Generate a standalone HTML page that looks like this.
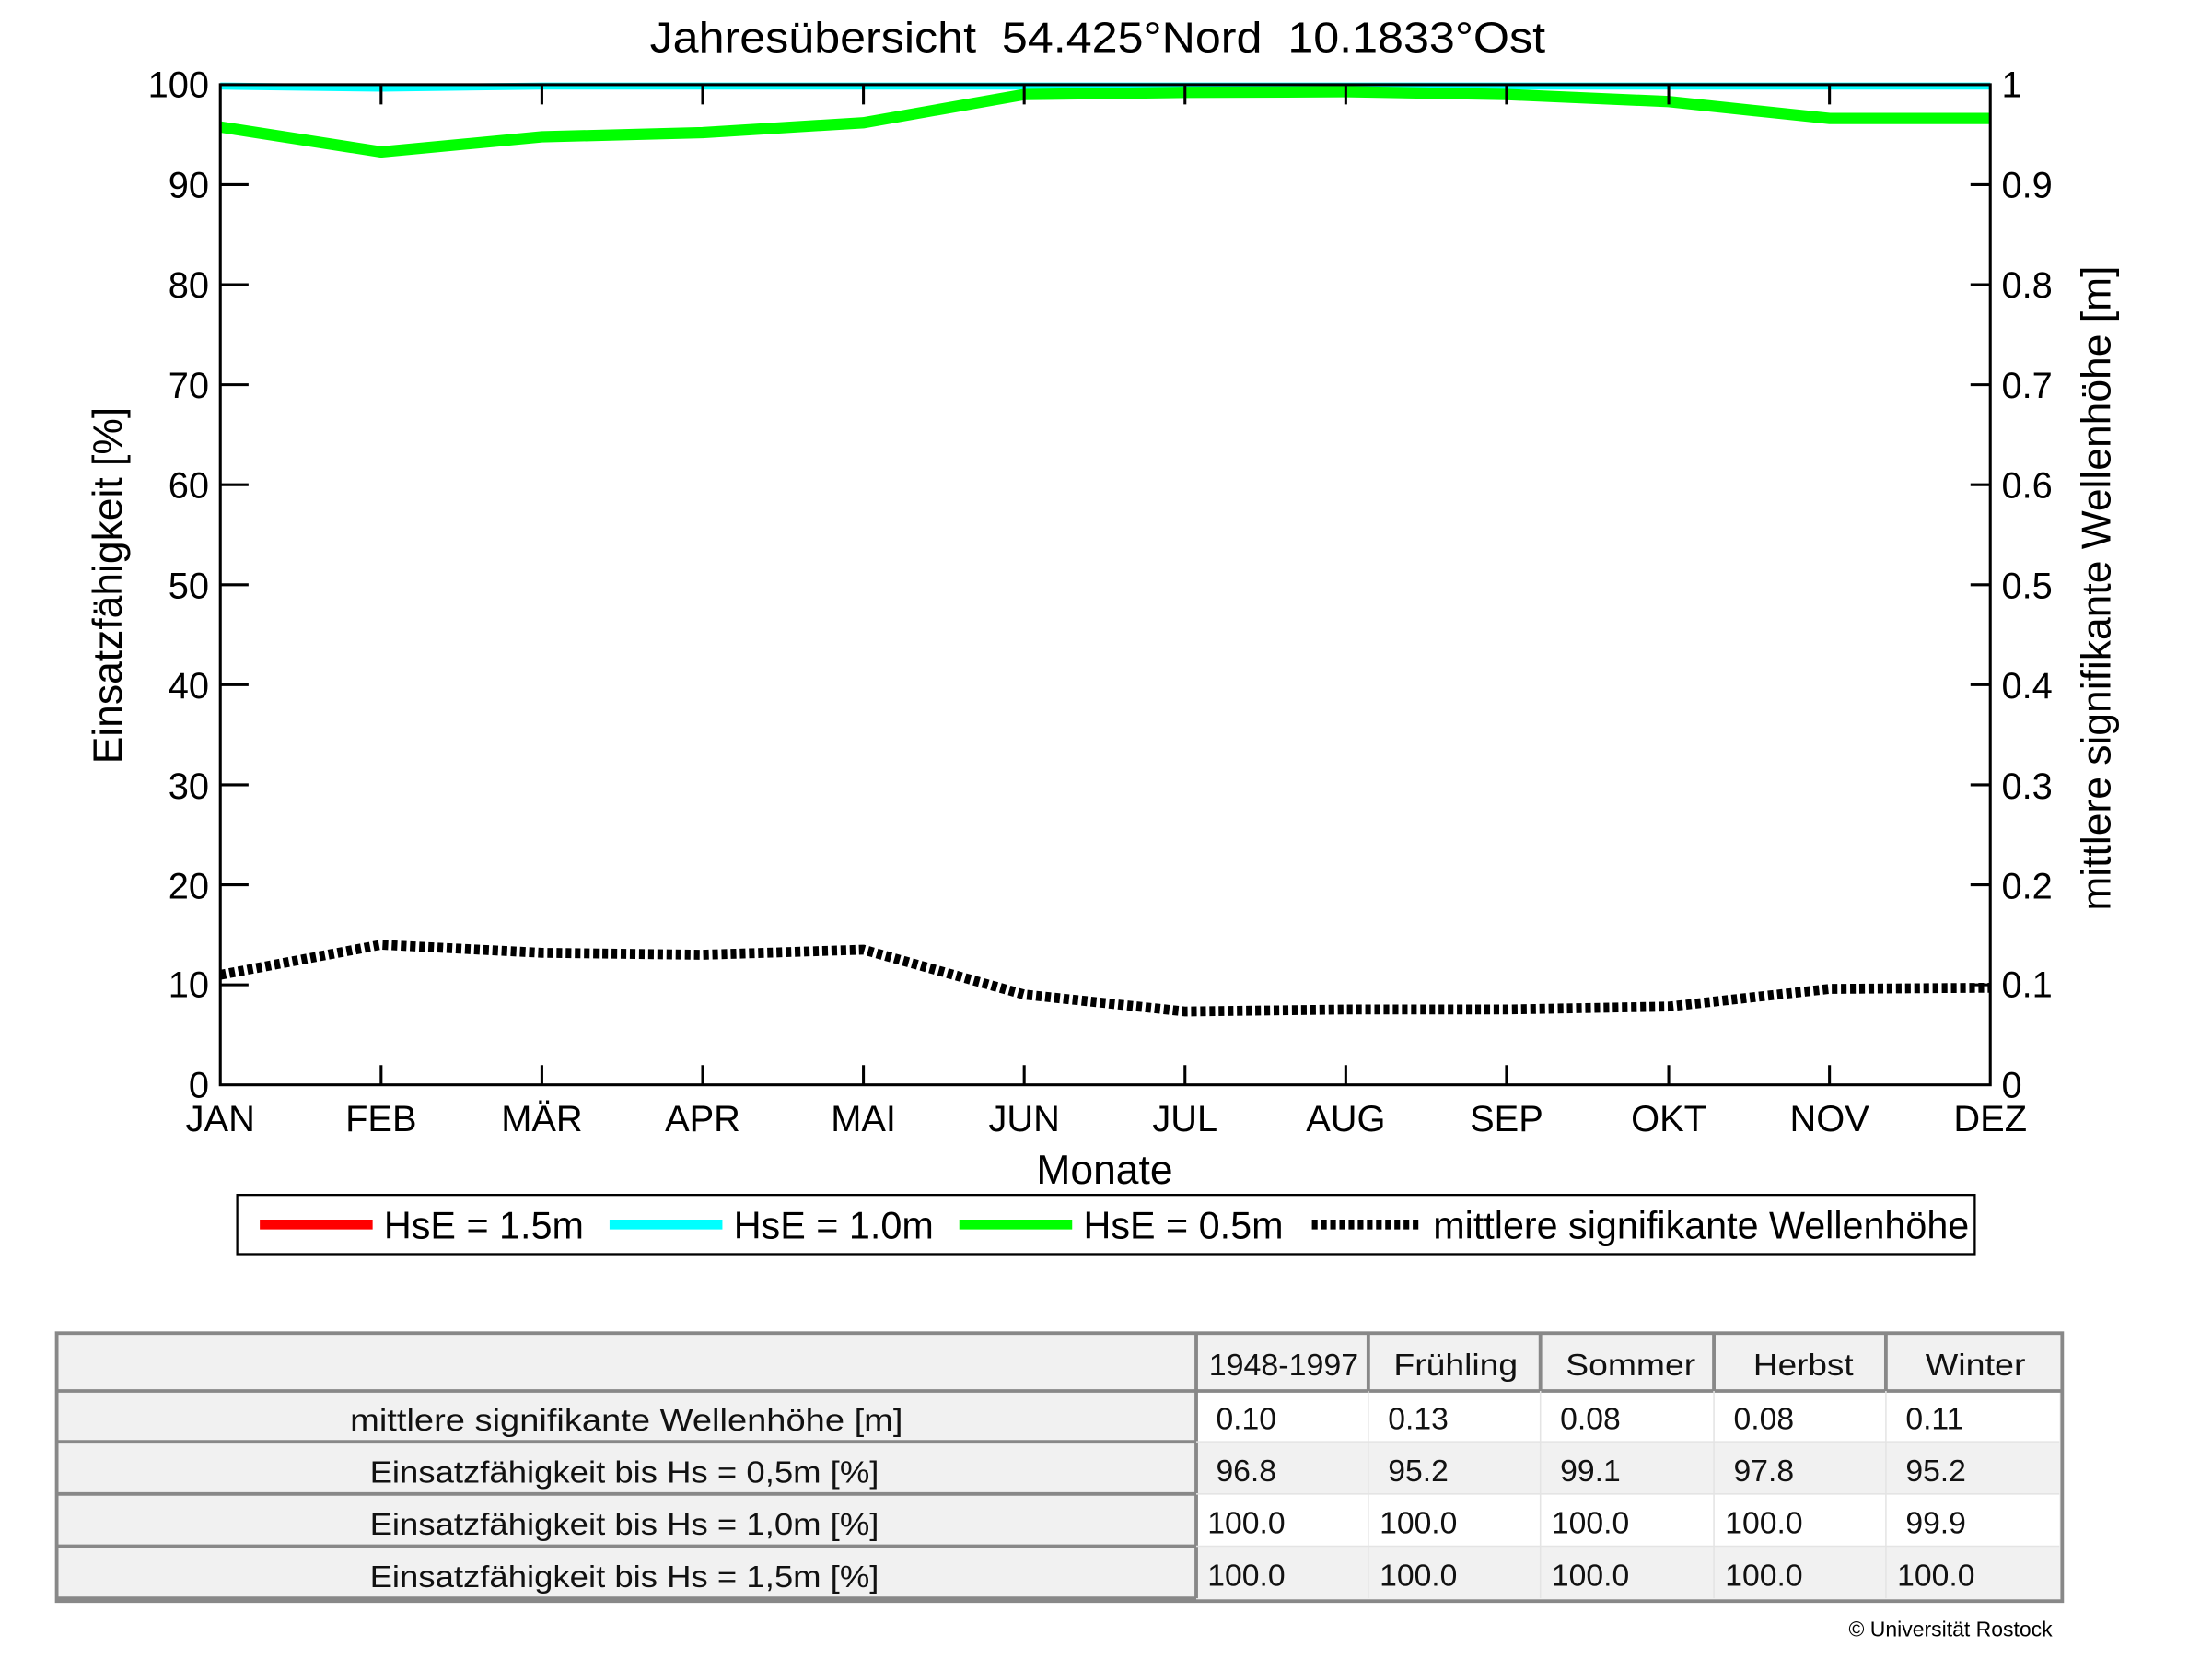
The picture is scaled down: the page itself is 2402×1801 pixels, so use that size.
<!DOCTYPE html>
<html><head><meta charset="utf-8"><style>html,body{margin:0;padding:0;background:#fff}svg{display:block}</style></head>
<body>
<svg width="2402" height="1801" viewBox="0 0 1568 1176" xmlns="http://www.w3.org/2000/svg" font-family="Liberation Sans, Arial, sans-serif">
<rect width="1568" height="1176" fill="#fff"/>
<text x="778" y="37" font-size="30" text-anchor="middle" textLength="635" lengthAdjust="spacingAndGlyphs" style="white-space:pre">Jahresübersicht  54.425°Nord  10.1833°Ost</text>
<!-- series -->
<polyline fill="none" stroke="#00ffff" stroke-width="5" points="156,61 270,62.5 384,61 498,61 612,61 726,61 840,61 954,61 1068,61 1183,61 1297,61 1411,61"/>
<polyline fill="none" stroke="#00ff00" stroke-width="8" points="156,90 270,107.7 384,97 498,94 612,87 726,67 840,65.5 954,65 1068,67 1183,72 1297,84 1411,84"/>
<polyline fill="none" stroke="#000" stroke-width="7" stroke-dasharray="4,2.5" points="156,691 270,669.7 384,675.4 498,676.8 612,673.2 726,705 840,717 954,715.6 1068,715.6 1183,713.5 1297,701 1411,700.2"/>
<!-- axes -->
<rect x="156" y="60" width="1255" height="709" fill="none" stroke="#000" stroke-width="2"/>
<g stroke="#000" stroke-width="2">
<path d="M156,698.1h20M156,627.2h20M156,556.3h20M156,485.4h20M156,414.5h20M156,343.6h20M156,272.7h20M156,201.8h20M156,130.9h20"/>
<path d="M1411,698.1h-14M1411,627.2h-14M1411,556.3h-14M1411,485.4h-14M1411,414.5h-14M1411,343.6h-14M1411,272.7h-14M1411,201.8h-14M1411,130.9h-14"/>
<path d="M270,769v-14M384,769v-14M498,769v-14M612,769v-14M726,769v-14M840,769v-14M954,769v-14M1068,769v-14M1183,769v-14M1297,769v-14"/>
<path d="M270,60v14M384,60v14M498,60v14M612,60v14M726,60v14M840,60v14M954,60v14M1068,60v14M1183,60v14M1297,60v14"/>
</g>
<g font-size="26" text-anchor="end">
<text x="148" y="69">100</text><text x="148" y="140">90</text><text x="148" y="211">80</text><text x="148" y="282">70</text><text x="148" y="353">60</text><text x="148" y="424">50</text><text x="148" y="495">40</text><text x="148" y="566">30</text><text x="148" y="637">20</text><text x="148" y="707">10</text><text x="148" y="778">0</text>
</g>
<g font-size="26">
<text x="1419" y="69">1</text><text x="1419" y="140">0.9</text><text x="1419" y="211">0.8</text><text x="1419" y="282">0.7</text><text x="1419" y="353">0.6</text><text x="1419" y="424">0.5</text><text x="1419" y="495">0.4</text><text x="1419" y="566">0.3</text><text x="1419" y="637">0.2</text><text x="1419" y="707">0.1</text><text x="1419" y="778">0</text>
</g>
<g font-size="26" text-anchor="middle">
<text x="156" y="802">JAN</text><text x="270" y="802">FEB</text><text x="384" y="802">MÄR</text><text x="498" y="802">APR</text><text x="612" y="802">MAI</text><text x="726" y="802">JUN</text><text x="840" y="802">JUL</text><text x="954" y="802">AUG</text><text x="1068" y="802">SEP</text><text x="1183" y="802">OKT</text><text x="1297" y="802">NOV</text><text x="1411" y="802">DEZ</text>
</g>
<text x="783" y="839" font-size="29" text-anchor="middle">Monate</text>
<text transform="translate(86,415) rotate(-90)" font-size="29" text-anchor="middle">Einsatzfähigkeit [%]</text>
<text transform="translate(1496,417) rotate(-90)" font-size="29" text-anchor="middle">mittlere signifikante Wellenhöhe [m]</text>
<!-- legend -->
<rect x="168" y="847" width="1232" height="42" fill="#fff" stroke="#000" stroke-width="1.5"/>
<line x1="184" y1="868" x2="264" y2="868" stroke="#ff0000" stroke-width="7"/>
<text x="272" y="878" font-size="27">HsE = 1.5m</text>
<line x1="432" y1="868" x2="512" y2="868" stroke="#00ffff" stroke-width="7"/>
<text x="520" y="878" font-size="27">HsE = 1.0m</text>
<line x1="680" y1="868" x2="760" y2="868" stroke="#00ff00" stroke-width="7"/>
<text x="768" y="878" font-size="27">HsE = 0.5m</text>
<line x1="930" y1="868" x2="1008" y2="868" stroke="#000" stroke-width="7" stroke-dasharray="4,2.5"/>
<text x="1016" y="878" font-size="27" textLength="380" lengthAdjust="spacingAndGlyphs">mittlere signifikante Wellenhöhe</text>
<!-- table -->
<rect x="40" y="945" width="1422" height="190" fill="#f1f1f1"/>
<rect x="848" y="986" width="612" height="36" fill="#fff"/>
<rect x="848" y="1059" width="612" height="37" fill="#fff"/>
<g stroke="#888" stroke-width="2.5" fill="none">
<rect x="40" y="945" width="1422" height="190"/>
<path d="M40,986H1462M40,1022H848M40,1059H848M40,1096H848M40,1133H848"/>
<path d="M848,945V1133M970,945V986M1092,945V986M1215,945V986M1337,945V986"/>
</g>
<g stroke="#e4e4e4" stroke-width="1"><path d="M970,986V1133M1092,986V1133M1215,986V1133M1337,986V1133M848,1022H1460M848,1059H1460M848,1096H1460"/></g>
<g font-size="22" fill="#111">
<text x="857" y="975" textLength="106" lengthAdjust="spacingAndGlyphs">1948-1997</text>
<text x="988" y="975" textLength="88" lengthAdjust="spacingAndGlyphs">Frühling</text>
<text x="1110" y="975" textLength="92" lengthAdjust="spacingAndGlyphs">Sommer</text>
<text x="1243" y="975" textLength="71" lengthAdjust="spacingAndGlyphs">Herbst</text>
<text x="1365" y="975" textLength="71" lengthAdjust="spacingAndGlyphs">Winter</text>
<text x="248" y="1014" textLength="392" lengthAdjust="spacingAndGlyphs">mittlere signifikante Wellenhöhe [m]</text>
<text x="262" y="1051" textLength="361" lengthAdjust="spacingAndGlyphs">Einsatzfähigkeit bis Hs = 0,5m [%]</text>
<text x="262" y="1088" textLength="361" lengthAdjust="spacingAndGlyphs">Einsatzfähigkeit bis Hs = 1,0m [%]</text>
<text x="262" y="1125" textLength="361" lengthAdjust="spacingAndGlyphs">Einsatzfähigkeit bis Hs = 1,5m [%]</text>
<text x="862" y="1013">0.10</text><text x="984" y="1013">0.13</text><text x="1106" y="1013">0.08</text><text x="1229" y="1013">0.08</text><text x="1351" y="1013">0.11</text>
<text x="862" y="1050">96.8</text><text x="984" y="1050">95.2</text><text x="1106" y="1050">99.1</text><text x="1229" y="1050">97.8</text><text x="1351" y="1050">95.2</text>
<text x="856" y="1087">100.0</text><text x="978" y="1087">100.0</text><text x="1100" y="1087">100.0</text><text x="1223" y="1087">100.0</text><text x="1351" y="1087">99.9</text>
<text x="856" y="1124">100.0</text><text x="978" y="1124">100.0</text><text x="1100" y="1124">100.0</text><text x="1223" y="1124">100.0</text><text x="1345" y="1124">100.0</text>
</g>
<text x="1455" y="1160" font-size="15" text-anchor="end">© Universität Rostock</text>
</svg>
</body></html>
